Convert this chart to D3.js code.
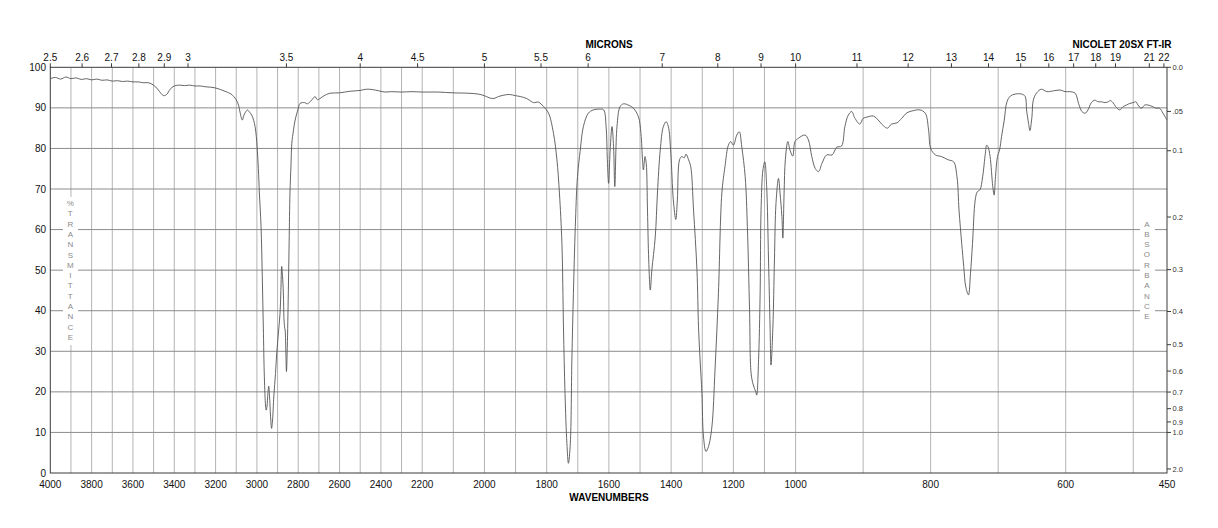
<!DOCTYPE html>
<html>
<head>
<meta charset="utf-8">
<script src="https://cdn.jsdelivr.net/npm/d3@7"></script>
<style>
  body { margin: 0; background: #fff; }
  svg text { font-family: "Liberation Sans", Arial, Helvetica, sans-serif; }
</style>
</head>
<body>
<svg id="chart" width="1218" height="528"></svg>
<script>
// spectrum (cm-1 and %T)
const wavenumbers = [
  4000, 3975, 3950, 3925, 3900, 3875, 3850, 3825, 3800, 3775, 3750, 3725, 3700, 3675, 3650, 3625,
  3600, 3575, 3550, 3525, 3500, 3480, 3465, 3450, 3435, 3420, 3400, 3375, 3350, 3325, 3300, 3275,
  3250, 3225, 3200, 3175, 3150, 3125, 3100, 3088, 3080, 3071, 3062, 3052, 3046, 3036, 3025, 3015,
  3009, 3003, 2998, 2993, 2988, 2980, 2974, 2969, 2964, 2958, 2955, 2951, 2947, 2943, 2939, 2934,
  2929, 2925, 2918, 2910, 2904, 2896, 2888, 2884, 2880, 2876, 2872, 2869, 2866, 2863, 2860, 2857,
  2853, 2848, 2844, 2840, 2835, 2831, 2823, 2815, 2800, 2791, 2770, 2755, 2743, 2730, 2719, 2707,
  2695, 2675, 2647, 2600, 2550, 2500, 2470, 2440, 2410, 2380, 2350, 2300, 2250, 2200, 2150, 2100,
  2050, 2020, 2000, 1985, 1970, 1955, 1940, 1920, 1900, 1885, 1864, 1850, 1842, 1826, 1810, 1794,
  1778, 1767, 1759, 1751, 1746, 1741, 1735, 1730, 1724, 1719, 1714, 1708, 1701, 1692, 1682, 1666,
  1650, 1630, 1617, 1609, 1605, 1601, 1596, 1590, 1585, 1581, 1574, 1564, 1553, 1535, 1521, 1505,
  1497, 1492, 1489, 1484, 1480, 1476, 1472, 1467, 1462, 1451, 1444, 1435, 1425, 1416, 1409, 1401,
  1393, 1385, 1380, 1373, 1366, 1358, 1352, 1344, 1337, 1328, 1317, 1312, 1307, 1301, 1296, 1288,
  1280, 1269, 1259, 1248, 1237, 1227, 1216, 1208, 1200, 1189, 1181, 1173, 1162, 1155, 1148, 1143,
  1136, 1128, 1125, 1119, 1114, 1111, 1105, 1099, 1093, 1087, 1082, 1079, 1073, 1068, 1063, 1055,
  1050, 1044, 1041, 1037, 1033, 1025, 1018, 1009, 1002, 996, 986, 981, 976, 971, 966, 961,
  954, 946, 939, 932, 927, 922, 917, 912, 905, 900, 895, 885, 880, 870, 864, 858,
  850, 843, 835, 826, 816, 808, 803, 800, 793, 784, 774, 766, 761, 758, 754, 751,
  748, 744, 741, 738, 734, 731, 727, 723, 719, 717, 715, 712, 708, 706, 704, 701,
  698, 695, 691, 687, 682, 675, 665, 660, 658, 655, 653, 650, 648, 643, 636, 628,
  618, 608, 601, 594, 586, 581, 576, 571, 567, 562, 557, 552, 547, 542, 537, 534,
  530, 526, 520, 515, 510, 505, 500, 496, 493, 488, 483, 478, 471, 466, 461, 456, 450
];
const transmittance = [
  97.2, 97.5, 97.1, 97.6, 97.2, 97.4, 97.0, 97.2, 96.9, 97.1, 96.8, 96.9, 96.6, 96.7, 96.5, 96.6,
  96.4, 96.4, 96.2, 96.2, 95.6, 94.6, 93.6, 93.0, 93.4, 94.6, 95.4, 95.6, 95.5, 95.6, 95.4, 95.4,
  95.2, 95.1, 94.9, 94.5, 94.0, 93.4, 92.0, 90.5, 88.5, 87.0, 88.3, 89.2, 89.5, 89.0, 88.2, 86.8,
  85.4, 83.0, 79.6, 75.0, 69.0, 60.7, 48.4, 36.0, 23.7, 16.5, 15.5, 16.5, 19.5, 21.4, 19.0, 14.0,
  11.0, 12.5, 19.0, 24.5, 29.6, 34.5, 39.4, 45.0, 50.9, 48.5, 44.4, 38.0, 36.0, 35.0, 30.0, 25.0,
  31.0, 44.4, 57.0, 69.0, 76.0, 81.3, 84.5, 87.0, 89.8, 91.1, 91.3, 91.0, 91.5, 92.2, 92.8, 92.0,
  92.3, 93.0, 93.6, 93.7, 94.1, 94.3, 94.6, 94.5, 94.2, 93.9, 94.0, 93.9, 94.0, 93.9, 93.9, 93.7,
  93.6, 93.4, 93.0, 92.5, 92.3, 92.8, 93.1, 93.3, 93.0, 92.8, 92.3, 91.6, 91.3, 91.4, 90.3, 88.7,
  83.7, 77.2, 69.0, 56.6, 36.0, 19.6, 7.3, 2.4, 7.3, 27.9, 44.3, 60.7, 73.0, 79.6, 85.4, 88.7,
  89.5, 89.7, 89.5, 85.4, 77.2, 71.4, 79.6, 85.4, 80.4, 70.6, 85.4, 90.3, 91.0, 90.6, 89.9, 87.8,
  83.7, 77.2, 74.7, 78.0, 76.3, 64.8, 52.5, 45.1, 50.0, 58.2, 69.0, 79.6, 85.4, 86.6, 85.4, 78.8,
  67.3, 62.5, 67.3, 77.2, 78.0, 77.7, 78.6, 77.2, 75.5, 64.8, 50.0, 36.0, 27.9, 19.6, 8.9, 5.3,
  6.5, 11.4, 25.4, 44.3, 69.0, 75.5, 80.8, 81.7, 80.8, 83.3, 84.1, 80.4, 73.0, 60.7, 40.2, 24.6,
  21.7, 20.0, 19.2, 27.9, 44.3, 64.8, 74.7, 76.7, 70.6, 52.5, 36.0, 26.6, 36.0, 52.5, 66.5, 72.6,
  69.0, 63.2, 57.9, 69.0, 77.2, 81.7, 79.6, 78.1, 81.7, 82.5, 83.3, 82.1, 78.0, 75.1, 74.3, 76.3,
  78.4, 78.4, 80.3, 80.6, 85.4, 88.2, 89.1, 87.4, 86.0, 87.4, 87.7, 88.0, 87.4, 85.6, 85.0, 86.0,
  86.3, 87.4, 88.8, 89.3, 89.5, 88.7, 84.5, 80.0, 78.4, 78.0, 77.2, 76.7, 73.0, 64.8, 56.6, 50.9,
  45.9, 43.9, 49.2, 56.6, 67.3, 69.3, 69.8, 73.0, 78.8, 80.8, 80.4, 78.0, 70.6, 68.5, 73.0, 78.0,
  79.6, 82.9, 87.0, 91.5, 92.9, 93.4, 93.4, 92.8, 89.5, 86.2, 84.4, 87.8, 91.9, 93.7, 94.6, 94.0,
  94.2, 94.4, 94.0, 94.0, 93.6, 91.1, 89.1, 88.7, 89.5, 91.3, 91.9, 91.5, 91.5, 91.3, 91.5, 91.8,
  91.3, 90.3, 89.5, 90.3, 90.7, 91.1, 91.3, 91.5, 90.7, 89.9, 90.7, 90.7, 90.3, 89.9, 89.9, 88.7, 87.0
];

const wavenumberTicks = [4000, 3800, 3600, 3400, 3200, 3000, 2800, 2600, 2400, 2200, 2000, 1800, 1600, 1400, 1200, 1000, 800, 600, 450];
const gridWavenumbers = d3.range(3900, 499, -100);
const percentTicks = d3.range(0, 101, 10);
const micronTicks = [2.5, 2.6, 2.7, 2.8, 2.9, 3, 3.5, 4, 4.5, 5, 5.5, 6, 7, 8, 9, 10, 11, 12, 13, 14, 15, 16, 17, 18, 19, 21, 22];
const absorbanceTicks = [0, 0.05, 0.1, 0.2, 0.3, 0.4, 0.5, 0.6, 0.7, 0.8, 0.9, 1.0, 2.0];
const absorbanceLabels = ["0.0", ".05", "0.1", "0.2", "0.3", "0.4", "0.5", "0.6", "0.7", "0.8", "0.9", "1.0", "2.0"];

const svg = d3.select('#chart');
const plotLeft = 50.3, plotRight = 1167, plotTop = 67.3, plotBottom = 473;

// the instrument chart changes scale at 2200 and 1000 cm-1
const x = d3.scaleLinear()
  .domain([4000, 2200, 1000, 450])
  .range([plotLeft, 422.2, 795.6, plotRight]);
const y = d3.scaleLinear().domain([0, 100]).range([plotBottom, plotTop]);

// grid
svg.append('g').selectAll('line').data(gridWavenumbers).join('line')
  .attr('x1', d => x(d)).attr('x2', d => x(d))
  .attr('y1', plotTop).attr('y2', plotBottom)
  .attr('stroke', '#b4b4b4').attr('stroke-width', 1);
svg.append('g').selectAll('line').data(percentTicks.slice(1, -1)).join('line')
  .attr('x1', plotLeft).attr('x2', plotRight)
  .attr('y1', d => y(d)).attr('y2', d => y(d))
  .attr('stroke', '#8c8c8c').attr('stroke-width', 1);

// vertical captions sit on a white patch over the grid
function stackedLabel(text, cx, y0, box) {
  svg.append('rect').attr('x', box[0]).attr('y', box[1]).attr('width', box[2]).attr('height', box[3]).attr('fill', '#fff');
  text.split('').forEach((ch, i) => {
    svg.append('text')
      .attr('x', cx).attr('y', y0 + i * 10.3)
      .attr('text-anchor', 'middle')
      .attr('font-size', 8)
      .attr('fill', '#8a8a8a')
      .text(ch);
  });
}
stackedLabel('%TRANSMITTANCE', 70.3, 206, [63, 197, 15, 148]);
stackedLabel('ABSORBANCE', 1146.8, 226.5, [1140, 214, 15, 110]);

// frame
svg.append('rect')
  .attr('x', plotLeft).attr('y', plotTop)
  .attr('width', plotRight - plotLeft).attr('height', plotBottom - plotTop)
  .attr('fill', 'none').attr('stroke', '#3a3a3a').attr('stroke-width', 1);

// spectrum
const points = wavenumbers.map((w, i) => [w, transmittance[i]]);
svg.append('path')
  .datum(points)
  .attr('fill', 'none')
  .attr('stroke', '#555')
  .attr('stroke-width', 0.9)
  .attr('d', d3.line().x(d => x(d[0])).y(d => y(d[1])).curve(d3.curveCatmullRom.alpha(0.5)));

// bottom wavenumber labels
svg.append('g').selectAll('text').data(wavenumberTicks).join('text')
  .attr('x', d => x(d)).attr('y', 487.5)
  .attr('text-anchor', 'middle').attr('font-size', 10).attr('fill', '#111')
  .text(d => d);

// left %T labels
svg.append('g').selectAll('text').data(percentTicks).join('text')
  .attr('x', 46).attr('y', d => y(d)).attr('dy', '0.35em')
  .attr('text-anchor', 'end').attr('font-size', 10).attr('fill', '#111')
  .text(d => d);

// top micron axis
const mg = svg.append('g');
mg.selectAll('line').data(micronTicks).join('line')
  .attr('x1', d => x(10000 / d)).attr('x2', d => x(10000 / d))
  .attr('y1', plotTop - 4).attr('y2', plotTop)
  .attr('stroke', '#3a3a3a');
mg.selectAll('text').data(micronTicks).join('text')
  .attr('x', d => x(10000 / d)).attr('y', 61)
  .attr('text-anchor', 'middle').attr('font-size', 10).attr('fill', '#111')
  .text(d => d);

// right absorbance axis
const ag = svg.append('g');
ag.selectAll('line').data(absorbanceTicks).join('line')
  .attr('x1', plotRight).attr('x2', plotRight + 4)
  .attr('y1', d => y(100 * Math.pow(10, -d))).attr('y2', d => y(100 * Math.pow(10, -d)))
  .attr('stroke', '#3a3a3a');
ag.selectAll('text').data(absorbanceTicks).join('text')
  .attr('x', plotRight + 5.5).attr('y', d => y(100 * Math.pow(10, -d))).attr('dy', '0.35em')
  .attr('font-size', 7.5).attr('fill', '#333')
  .text((d, i) => absorbanceLabels[i]);

// titles
svg.append('text').attr('x', 609).attr('y', 48.3).attr('text-anchor', 'middle')
  .attr('font-size', 10).attr('font-weight', 'bold').text('MICRONS');
svg.append('text').attr('x', 609).attr('y', 500.7).attr('text-anchor', 'middle')
  .attr('font-size', 10).attr('font-weight', 'bold').text('WAVENUMBERS');
svg.append('text').attr('x', 1171.5).attr('y', 48.3).attr('text-anchor', 'end')
  .attr('font-size', 10).attr('font-weight', 'bold').text('NICOLET 20SX FT-IR');
</script>
</body>
</html>
